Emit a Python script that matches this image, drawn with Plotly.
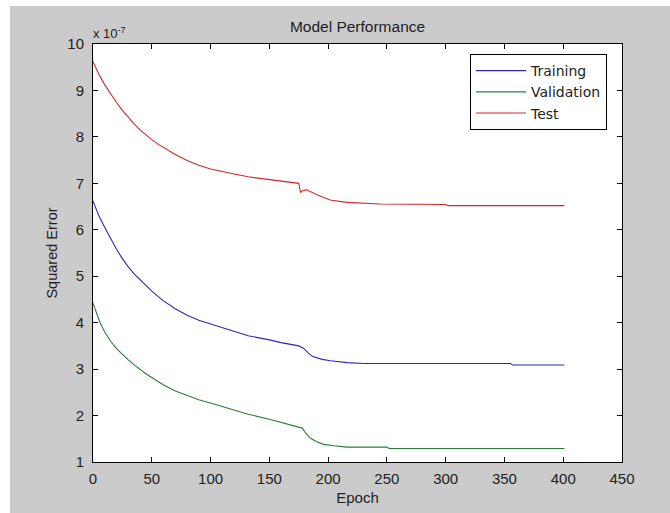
import plotly.graph_objects as go

# Data (values in units of 1e-7)
train_epoch = [0, 5, 10, 15, 20, 25, 30, 35, 40, 45, 50, 55, 60, 70, 80, 90, 100, 115, 132, 150, 160, 175, 179, 183, 187, 195, 202, 216, 230, 244, 300, 355, 357, 401]
train_err = [6.62, 6.3, 6.05, 5.8, 5.58, 5.38, 5.2, 5.05, 4.92, 4.8, 4.68, 4.57, 4.47, 4.3, 4.16, 4.05, 3.97, 3.85, 3.72, 3.63, 3.57, 3.5, 3.45, 3.35, 3.27, 3.21, 3.18, 3.14, 3.12, 3.12, 3.12, 3.12, 3.09, 3.09]

val_epoch = [0, 3, 6, 10, 15, 20, 25, 30, 35, 40, 45, 50, 55, 60, 70, 80, 90, 100, 115, 132, 150, 160, 175, 178, 181, 185, 190, 196, 205, 216, 244, 250, 252, 401]
val_err = [4.42, 4.2, 4.0, 3.8, 3.6, 3.44, 3.31, 3.2, 3.09, 2.99, 2.9, 2.82, 2.74, 2.66, 2.53, 2.43, 2.34, 2.27, 2.15, 2.03, 1.92, 1.85, 1.76, 1.73, 1.62, 1.51, 1.44, 1.38, 1.35, 1.32, 1.32, 1.32, 1.29, 1.29]

test_epoch = [0, 5, 10, 15, 20, 25, 30, 35, 40, 45, 50, 55, 60, 70, 80, 90, 100, 110, 120, 132, 150, 160, 175, 176.6, 178, 181.8, 190, 201.6, 216, 244, 300, 302, 401]
test_err = [9.62, 9.35, 9.12, 8.92, 8.74, 8.57, 8.42, 8.28, 8.15, 8.04, 7.94, 7.85, 7.77, 7.62, 7.49, 7.39, 7.31, 7.25, 7.2, 7.14, 7.08, 7.04, 7.0, 6.8, 6.84, 6.86, 6.76, 6.64, 6.59, 6.555, 6.545, 6.52, 6.52]

x_ticks = [0, 50, 100, 150, 200, 250, 300, 350, 400, 450]
y_ticks = [1, 2, 3, 4, 5, 6, 7, 8, 9, 10]

FONT = "Liberation Sans, Arial, sans-serif"
TXT = "#222222"

fig = go.Figure()
fig.add_trace(go.Scatter(x=train_epoch, y=train_err, mode="lines", name="Training",
                         line=dict(color="#2a2ab4", width=1.1)))
fig.add_trace(go.Scatter(x=val_epoch, y=val_err, mode="lines", name="Validation",
                         line=dict(color="#2a7d38", width=1.1)))
fig.add_trace(go.Scatter(x=test_epoch, y=test_err, mode="lines", name="Test",
                         line=dict(color="#cc2a2a", width=1.1)))

axis_common = dict(showline=True, linecolor="black", linewidth=1, mirror="ticks",
                   ticks="inside", ticklen=5, tickcolor="black", showgrid=False,
                   zeroline=False, automargin=False,
                   tickfont=dict(family=FONT, size=15, color=TXT))

fig.update_xaxes(range=[0, 450], tickvals=x_ticks, ticktext=[str(v) for v in x_ticks],
                 ticklabelstandoff=3,
                 title=dict(text="Epoch", font=dict(family=FONT, size=15, color=TXT), standoff=6),
                 **axis_common)
fig.update_yaxes(range=[1, 10], tickvals=y_ticks, ticktext=[str(v) for v in y_ticks],
                 ticklabelstandoff=5,
                 title=dict(text="Squared Error", font=dict(family=FONT, size=14.5, color=TXT), standoff=6),
                 **axis_common)

fig.update_layout(
    width=670, height=513,
    margin=dict(l=93, r=48, t=44, b=51),
    paper_bgcolor="#cbcbcb", plot_bgcolor="white",
    title=dict(text="Model Performance", x=0.5336, xanchor="center", y=1 - 27 / 513, yanchor="middle",
               font=dict(family=FONT, size=15.5, color=TXT)),
    showlegend=True,
    legend=dict(x=0.7127, y=0.976, xanchor="left", yanchor="top", bgcolor="white",
                bordercolor="black", borderwidth=1,
                font=dict(family="DejaVu Sans, sans-serif", size=14, color=TXT),
                tracegroupgap=0, itemwidth=50),
    annotations=[dict(text="x 10<sup>-7</sup>", xref="paper", yref="paper", x=-0.004, y=1 + 11 / 418,
                      xanchor="left", yanchor="middle", showarrow=False,
                      font=dict(family=FONT, size=13, color=TXT))],
    shapes=[
        dict(type="rect", xref="paper", yref="paper", x0=-0.18, x1=1.1, y0=1 + 38 / 418, y1=1.11,
             fillcolor="white", line=dict(width=0), layer="below"),
        dict(type="rect", xref="paper", yref="paper", x0=-0.18, x1=(10 - 93) / 529, y0=-0.13, y1=1.11,
             fillcolor="white", line=dict(width=0), layer="below"),
    ],
)

fig.write_html("out.html")
